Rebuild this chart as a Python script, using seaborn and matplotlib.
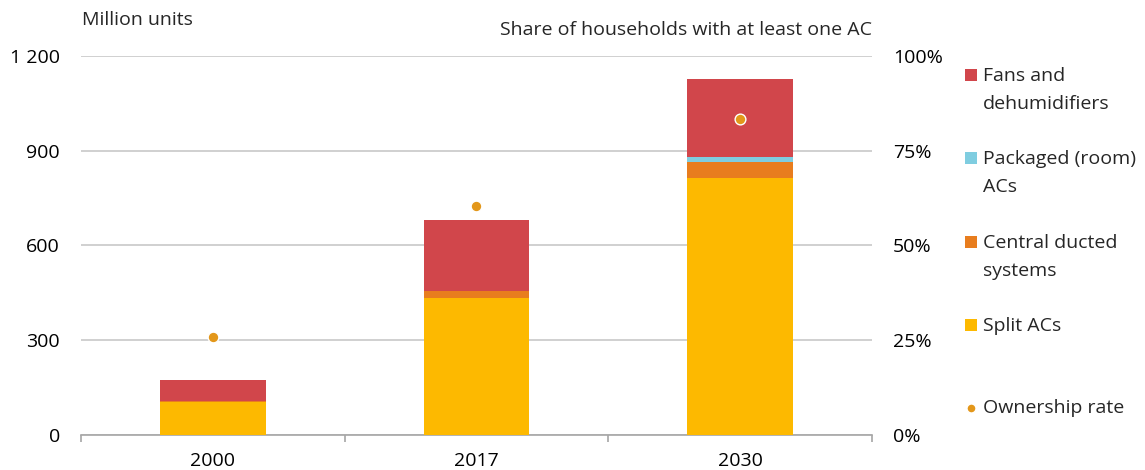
import matplotlib
matplotlib.use("Agg")
import matplotlib.pyplot as plt
import matplotlib.patches as mpatches
from matplotlib.lines import Line2D
import seaborn as sns
import pandas as pd

sns.set_theme(style="white")
plt.rcParams["font.family"] = ["Open Sans", "DejaVu Sans"]

# Stock of cooling equipment, million units
years = ["2000", "2017", "2030"]
split_acs = [105, 435, 813]
central_ducted = [4, 21, 52]
packaged_room = [0, 0, 14]
fans_dehumidifiers = [64, 225, 248]
# Share of households with at least one AC
ownership_rate = [0.259, 0.604, 0.833]

left_ticks = [0, 300, 600, 900, 1200]
left_labels = ["0", "300", "600", "900", "1 200"]
right_ticks = [0, 0.25, 0.5, 0.75, 1.0]
right_labels = ["0%", "25%", "50%", "75%", "100%"]

colors = {
    "Split ACs": "#FDB900",
    "Central ducted systems": "#E87D1E",
    "Packaged (room) ACs": "#7FCDE0",
    "Fans and dehumidifiers": "#D1464B",
}
dot_color = "#E3971A"
grid_color = "#C8C8C8"
fs = 14

df = pd.DataFrame({
    "year": years,
    "Split ACs": split_acs,
    "Central ducted systems": central_ducted,
    "Packaged (room) ACs": packaged_room,
    "Fans and dehumidifiers": fans_dehumidifiers,
    "rate": ownership_rate,
})

fig = plt.figure(figsize=(11.45, 4.7), dpi=100)
ax = fig.add_axes([0.0707, 0.0745, 0.6909, 0.8064])

bottom = pd.Series([0.0] * len(df))
for col in ["Split ACs", "Central ducted systems", "Packaged (room) ACs",
            "Fans and dehumidifiers"]:
    sns.barplot(data=df, x="year", y=col, order=years, color=colors[col],
                width=0.4, bottom=bottom.values, ax=ax, saturation=1,
                linewidth=0, zorder=3)
    bottom = bottom + df[col]

ax.set_xlim(-0.5, 2.5)
ax.set_ylim(0, 1200)
ax.set_yticks(left_ticks)
ax.set_yticklabels(left_labels)
ax.set_xlabel("")
ax.set_ylabel("")
ax.yaxis.grid(True, color=grid_color, linewidth=1.2, zorder=0)
ax.set_axisbelow(True)
for s in ["top", "left", "right"]:
    ax.spines[s].set_visible(False)
ax.spines["bottom"].set_color("#A6A6A6")
ax.spines["bottom"].set_linewidth(1.2)
ax.tick_params(axis="y", length=0, pad=15, labelsize=fs, colors="black")
ax.tick_params(axis="x", which="major", length=0, pad=12, labelsize=fs,
               colors="black")
ax.set_xticks([-0.5, 0.5, 1.5, 2.5], minor=True)
ax.tick_params(axis="x", which="minor", bottom=True, length=5, width=1.2,
               color="#A6A6A6", direction="out")

ax2 = ax.twinx()
sns.scatterplot(data=df, x="year", y="rate", ax=ax2, color=dot_color, s=60,
                edgecolor="white", linewidth=1.0, zorder=5)
ax2.set_ylim(0, 1.0)
ax2.set_yticks(right_ticks)
ax2.set_yticklabels(right_labels)
ax2.set_ylabel("")
ax2.set_xlabel("")
for s in ["top", "left", "right", "bottom"]:
    ax2.spines[s].set_visible(False)
ax2.tick_params(axis="y", length=0, pad=15, labelsize=fs, colors="black")
ax2.set_xlim(-0.5, 2.5)

fig.text(82 / 1145, 1 - 20 / 470, "Million units", fontsize=fs,
         ha="left", va="center")
fig.text(872 / 1145, 1 - 30 / 470, "Share of households with at least one AC",
         fontsize=fs, ha="right", va="center")

# Legend, drawn entry by entry on the right
legend_items = [
    ("Fans and\ndehumidifiers", colors["Fans and dehumidifiers"], 75),
    ("Packaged (room)\nACs", colors["Packaged (room) ACs"], 158),
    ("Central ducted\nsystems", colors["Central ducted systems"], 242),
    ("Split ACs", colors["Split ACs"], 325),
]
W, H = 1145, 470
for label, c, yc in legend_items:
    sq = 12
    fig.patches.append(mpatches.Rectangle(
        (965 / W, 1 - (yc + sq / 2) / H), sq / W, sq / H,
        transform=fig.transFigure, facecolor=c, edgecolor="none"))
    fig.text(983 / W, 1 - (yc - 8) / H, label, fontsize=fs, ha="left",
             va="top", linespacing=1.7)
fig.add_artist(Line2D([971 / W], [1 - 408 / H], marker="o", markersize=6.5,
                      color=dot_color, markeredgecolor="white",
                      transform=fig.transFigure, linestyle="none"))
fig.text(983 / W, 1 - 408 / H, "Ownership rate", fontsize=fs, ha="left",
         va="center")

fig.savefig("out.png", dpi=100, facecolor="white")
